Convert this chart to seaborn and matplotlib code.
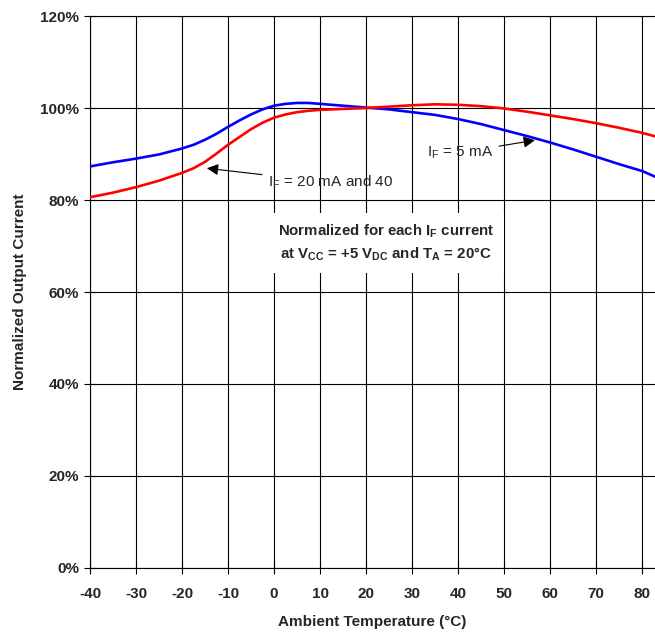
import numpy as np
import pandas as pd
import matplotlib
matplotlib.use('Agg')
import matplotlib.pyplot as plt
import matplotlib.ticker as ticker
import seaborn as sns

# 데이터
temp = [-40, -35, -30, -25, -20, -17.5, -15, -12.5, -10, -7.5, -5, -2.5, 0, 2.5, 5, 7.5,
        10, 15, 20, 25, 30, 35, 40, 45, 50, 55, 60, 65, 70, 75, 80, 83]
i_5ma = [87.3, 88.2, 89.0, 89.9, 91.2, 92.0, 93.1, 94.4, 95.9, 97.3, 98.6, 99.7, 100.5,
         100.9, 101.1, 101.1, 100.9, 100.5, 100.1, 99.7, 99.1, 98.5, 97.6, 96.5, 95.2,
         93.9, 92.5, 91.0, 89.4, 87.8, 86.3, 85.0]
i_20ma = [80.6, 81.6, 82.8, 84.2, 85.9, 86.9, 88.3, 90.1, 92.0, 93.7, 95.4, 96.8, 97.9,
          98.6, 99.1, 99.4, 99.6, 99.8, 100.0, 100.3, 100.6, 100.8, 100.7, 100.4, 99.9,
          99.2, 98.4, 97.6, 96.7, 95.7, 94.6, 93.8]
series = ['5 mA', '20 mA and 40']
x_ticks = list(range(-40, 90, 10))
y_ticks = list(range(0, 140, 20))

df = pd.DataFrame({
    'temp': temp * 2,
    'current': i_5ma + i_20ma,
    'IF': [series[0]] * len(temp) + [series[1]] * len(temp),
})

sns.set_style('white')
plt.rcParams['font.family'] = ['Liberation Sans', 'DejaVu Sans']
plt.rcParams['axes.unicode_minus'] = False
plt.rcParams['mathtext.fontset'] = 'custom'
plt.rcParams['mathtext.rm'] = 'Liberation Sans'
plt.rcParams['mathtext.bf'] = 'Liberation Sans:bold'

fig = plt.figure(figsize=(6.55, 6.33), dpi=100)
ax = fig.add_axes([0.1374, 0.1027, 0.8626, 0.872])

sns.lineplot(data=df, x='temp', y='current', hue='IF', hue_order=series,
             palette=['#0000FF', '#FF0000'], linewidth=1.9, legend=False, ax=ax, zorder=3)

ax.set_xlim(-40, 82.8)
ax.set_ylim(0, 120)
ax.set_xticks(x_ticks)
ax.set_yticks(y_ticks)
ax.yaxis.set_major_formatter(ticker.FuncFormatter(lambda v, pos: f'{v:.0f}%'))
ax.grid(True, color='black', linewidth=0.8)
ax.spines['right'].set_visible(False)
for s in ['left', 'bottom', 'top']:
    ax.spines[s].set_color('black')
    ax.spines[s].set_linewidth(0.8)
ax.tick_params(axis='both', direction='inout', length=8, width=0.8, color='black',
               labelsize=11, left=True, bottom=True)
ax.tick_params(axis='x', pad=10)
ax.tick_params(axis='y', pad=4)
for lab in ax.get_xticklabels() + ax.get_yticklabels():
    lab.set_fontweight('bold')

ax.set_xlabel('Ambient Temperature (°C)', fontsize=11, fontweight='bold', labelpad=10)
ax.set_ylabel('Normalized Output Current', fontsize=11, fontweight='bold', labelpad=9)

# 주석
ax.annotate(r'I$_\mathrm{F}$ = 20 mA and 40', xy=(-14.6, 86.9), xytext=(-1.3, 83.8),
            fontsize=11, va='center', ha='left',
            arrowprops=dict(arrowstyle='-|>', color='black', lw=0.8, mutation_scale=17,
                            shrinkA=2, shrinkB=0))
ax.annotate(r'I$_\mathrm{F}$ = 5 mA', xy=(56.7, 93.0), xytext=(47.6, 90.3),
            fontsize=11, va='center', ha='right',
            arrowprops=dict(arrowstyle='-|>', color='black', lw=0.8, mutation_scale=17,
                            shrinkA=2, shrinkB=0))
ax.text(24.3, 70.7,
        r'Normalized for each I$_\mathbf{F}$ current' + '\n' +
        r'at V$_\mathbf{CC}$ = +5 V$_\mathbf{DC}$ and T$_\mathbf{A}$ = 20°C',
        fontsize=10.8, fontweight='bold', ha='center', va='center', linespacing=1.4,
        bbox=dict(facecolor='white', edgecolor='none', pad=7), zorder=4)

fig.savefig('out.png', dpi=100)
